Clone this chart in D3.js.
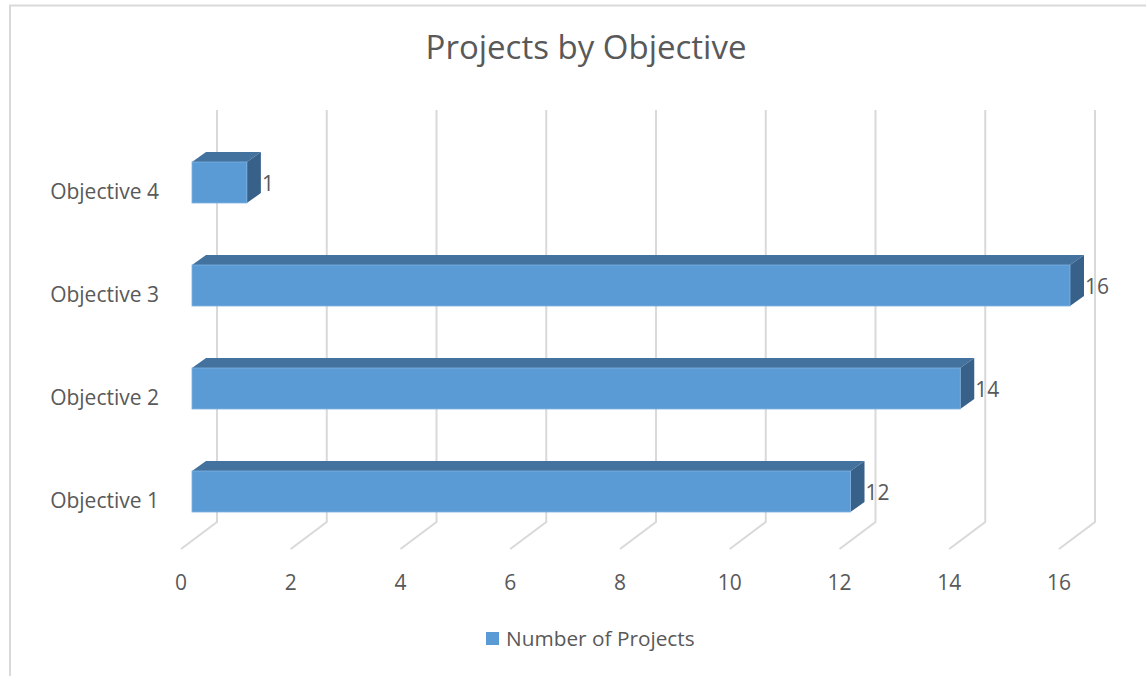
<!DOCTYPE html>
<html>
<head>
<meta charset="utf-8">
<script src="https://cdn.jsdelivr.net/npm/d3@7"></script>
<style>
  html, body { margin: 0; padding: 0; background: #fff; }
  svg { display: block; }
  text { font-family: "Open Sans", sans-serif; fill: #595959; }
</style>
</head>
<body>
<svg id="chart" width="1146" height="676"></svg>
<script>
const categories = ["Objective 1", "Objective 2", "Objective 3", "Objective 4"];
const values = [12, 14, 16, 1];
const tickValues = [0, 2, 4, 6, 8, 10, 12, 14, 16];
const seriesName = "Number of Projects";
const title = "Projects by Objective";

const svg = d3.select("#chart");
const W = 1146, H = 676;

// frame
svg.append("rect").attr("x", 10).attr("y", 5.5).attr("width", W + 20).attr("height", H + 20)
  .attr("fill", "#fff").attr("stroke", "#D9D9D9").attr("stroke-width", 2);

// scales (front floor plane)
const x = d3.scaleLinear().domain([0, 16]).range([181, 1059]);
const y = d3.scalePoint().domain(categories).range([491.5, 182.5]);

// 3D geometry
const wallDX = 36, wallDY = -27;     // front floor -> back wall
const floorY = 549, wallTop = 110;
const barOffX = 11;                  // bar front plane offset
const depthDX = 14, depthDY = -10;   // bar depth
const barH = 41;

// gridlines (back wall + floor)
const grid = svg.append("g");
grid.selectAll("path").data(tickValues).join("path")
  .attr("d", t => {
    const xb = x(t) + wallDX;
    return `M${xb},${wallTop} L${xb},${floorY + wallDY} L${x(t)},${floorY}`;
  })
  .attr("fill", "none").attr("stroke", "#D9D9D9").attr("stroke-width", 2);

// tick labels
svg.append("g").selectAll("text").data(tickValues).join("text")
  .attr("x", d => x(d)).attr("y", 590)
  .attr("text-anchor", "middle").attr("font-size", 21)
  .text(d => d);

// bars
const data = categories.map((c, i) => ({ c, v: values[i] }));
const bars = svg.append("g").selectAll("g").data(data).join("g");
const x0 = x(0) + barOffX;
bars.each(function(d) {
  const g = d3.select(this);
  const x1 = x(d.v) + barOffX;
  const top = y(d.c) - barH / 2, bot = y(d.c) + barH / 2;
  g.append("path")
    .attr("d", `M${x0},${top} L${x0 + depthDX},${top + depthDY} L${x1 + depthDX},${top + depthDY} L${x1},${top} Z`)
    .attr("fill", "#43729E");
  g.append("path")
    .attr("d", `M${x1},${top} L${x1 + depthDX},${top + depthDY} L${x1 + depthDX},${bot + depthDY} L${x1},${bot} Z`)
    .attr("fill", "#38618A");
  g.append("rect")
    .attr("x", x0).attr("y", top).attr("width", x1 - x0).attr("height", barH)
    .attr("fill", "#5B9BD5").attr("stroke", "#7DAFDF").attr("stroke-width", 0.8);
  g.append("text")
    .attr("x", x1 + depthDX + 1).attr("y", y(d.c) + 8)
    .attr("font-size", 21).text(d.v);
});

// category labels
svg.append("g").selectAll("text").data(categories).join("text")
  .attr("x", 159).attr("y", d => y(d) + 16)
  .attr("text-anchor", "end").attr("font-size", 21)
  .text(d => d);

// title
svg.append("text").attr("x", 586).attr("y", 59)
  .attr("text-anchor", "middle").attr("font-size", 33)
  .text(title);

// legend
const lg = svg.append("g");
lg.append("rect").attr("x", 486).attr("y", 632).attr("width", 13).attr("height", 13).attr("fill", "#5B9BD5");
lg.append("text").attr("x", 506).attr("y", 646).attr("font-size", 20.8).text(seriesName);
</script>
</body>
</html>
